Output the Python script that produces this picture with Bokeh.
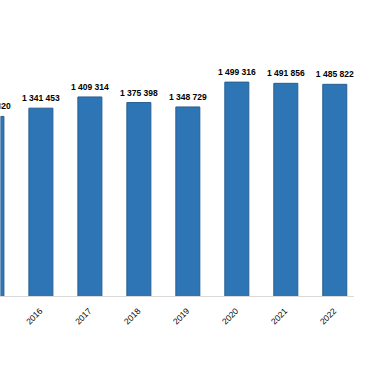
import math
from bokeh.plotting import figure
from bokeh.models import ColumnDataSource, FixedTicker, Range1d
from bokeh.core.properties import value
from bokeh.embed import file_html
from bokeh.resources import INLINE

years = [2015, 2016, 2017, 2018, 2019, 2020, 2021, 2022, 2023]
counts = [1291320, 1341453, 1409314, 1375398, 1348729, 1499316, 1491856, 1485822, 1236500]
labels = [f"{v:,}".replace(",", " ") for v in counts]

src = ColumnDataSource(data=dict(x=years, top=counts, label=labels))

p = figure(width=354, height=364, output_backend="svg", toolbar_location=None,
           x_range=Range1d(2015.1752, 2022.4026), y_range=Range1d(200000, 1993939),
           y_axis_location=None, min_border_left=0, min_border_right=0,
           min_border_top=0, min_border_bottom=68)
p.outline_line_color = None
p.xgrid.visible = False
p.ygrid.visible = False

p.vbar(x="x", top="top", bottom=200000, width=0.49, source=src,
       fill_color="#2e75b6", line_color="#275f92", line_width=1)

p.text(x="x", y="top", text="label", source=src, y_offset=-10,
       text_align="center", text_baseline="alphabetic",
       text_font=value("Liberation Sans"), text_font_style="bold",
       text_font_size="8.5px", text_color="#000000")

ax = p.xaxis[0]
ax.ticker = FixedTicker(ticks=years)
ax.major_label_orientation = math.pi / 4
ax.major_label_text_font = "Liberation Sans"
ax.major_label_text_font_size = "8.5px"
ax.major_label_text_color = "#000000"
ax.major_label_standoff = 7
ax.major_tick_line_color = None
ax.minor_tick_line_color = None
ax.axis_line_color = "#d9d9d9"
ax.axis_line_width = 1

open("out.html", "w").write(file_html(p, INLINE))
